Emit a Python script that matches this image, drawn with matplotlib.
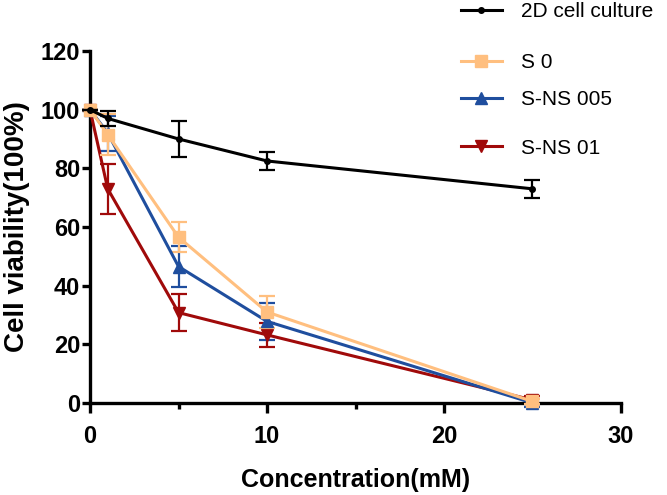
import numpy as np
import matplotlib
matplotlib.use("Agg")
from matplotlib import pyplot as plt
from matplotlib.lines import Line2D

plt.rcParams['font.family'] = ['Liberation Sans', 'DejaVu Sans']

conc = [0, 1, 5, 10, 25]

labels = ['2D cell culture', 'S 0', 'S-NS 005', 'S-NS 01']
colors = ['#000000', '#FFBF7F', '#1F4E9E', '#A00A0A']
markers = ['o', 's', '^', 'v']
msizes = [4, 8, 8, 8]

v_2d = [100, 97, 90, 82.5, 73]
e_2d = [0, 2.5, 6, 3, 3]
v_s0 = [100, 91.5, 56.5, 31, 0.5]
e_s0 = [0, 7, 5.2, 5.5, 1]
v_ns005 = [100, 92, 46.5, 27.8, 0]
e_ns005 = [0, 6, 7, 6.3, 1.5]
v_ns01 = [100, 73, 30.8, 23.2, 1]
e_ns01 = [0, 8.5, 6.2, 4, 1.2]

values = [v_2d, v_s0, v_ns005, v_ns01]
errors = [e_2d, e_s0, e_ns005, e_ns01]

fig = plt.figure(figsize=(6.67, 4.95), dpi=100)
ax = fig.add_axes([0.135, 0.186, 0.796, 0.711])

for i in range(4):
    ax.errorbar(conc, values[i], yerr=errors[i], color=colors[i], marker=markers[i],
                markersize=msizes[i], linewidth=2.2, elinewidth=1.6, capsize=6, capthick=1.6,
                clip_on=False, zorder=3 + (3 - i) * 0.1 if i else 3.5)

ax.set_xlim(0, 30)
ax.set_ylim(0, 120)
ax.set_xticks([0, 10, 20, 30])
ax.set_xticks([5, 15, 25], minor=True)
ax.set_yticks(np.arange(0, 121, 20))
for s in ['top', 'right']:
    ax.spines[s].set_visible(False)
for s in ['left', 'bottom']:
    ax.spines[s].set_linewidth(2.4)
ax.tick_params(axis='y', which='major', length=6, width=2.4, pad=1, labelsize=17)
ax.tick_params(axis='x', which='major', length=7, width=2.4, pad=9, labelsize=17)
ax.tick_params(axis='x', which='minor', length=4, width=2.4)
for t in ax.get_xticklabels() + ax.get_yticklabels():
    t.set_fontweight('bold')
ax.set_xlabel('Concentration(mM)', fontsize=18, fontweight='bold', labelpad=14)
ax.set_ylabel('Cell viability(100%)', fontsize=20, fontweight='bold', labelpad=8)

# legend entries outside the axes, top right
leg_y = [0.976, 0.873, 0.798, 0.701]
for i in range(4):
    h = Line2D([], [], color=colors[i], marker=markers[i], markersize=msizes[i], linewidth=2.2)
    fig.legend(handles=[h], labels=[labels[i]], loc='center left',
               bbox_to_anchor=(0.675, leg_y[i]), frameon=False, fontsize=15,
               handlelength=2.0, handletextpad=0.9, borderpad=0)

fig.savefig('out.png', dpi=100)
